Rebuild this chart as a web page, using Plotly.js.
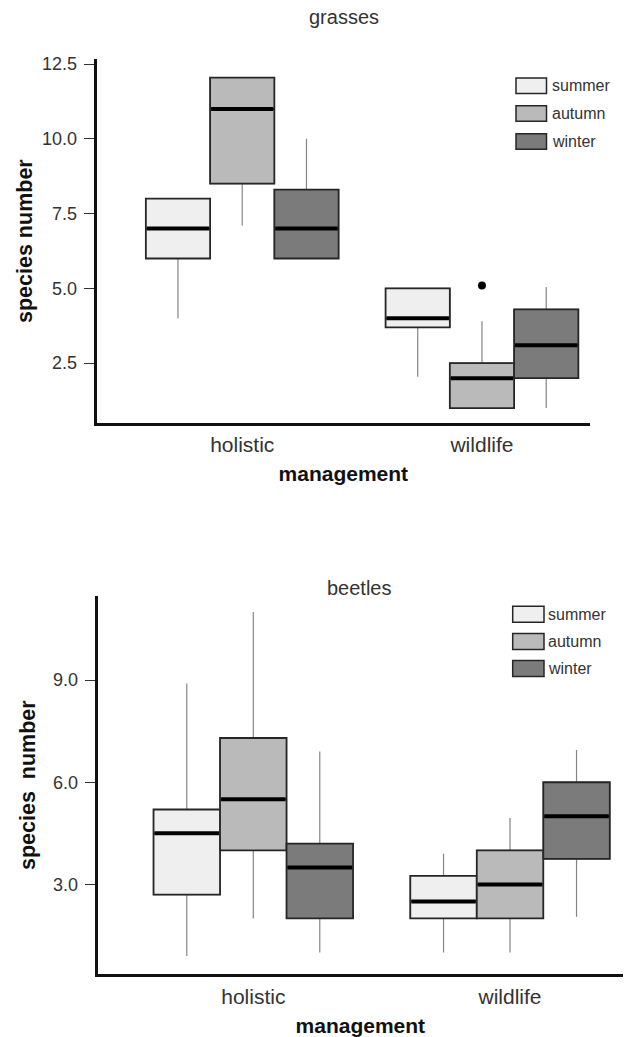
<!DOCTYPE html>
<html>
<head>
<meta charset="utf-8">
<script src="https://cdn.plot.ly/plotly-3.0.1.min.js"></script>
<style>html,body{margin:0;padding:0;background:#fff;}#chart{width:628px;height:1037px;}</style>
</head>
<body>
<div id="chart"></div>
<script>
// ---------- data ----------
var groups = ['holistic', 'wildlife'];
var seasons = ['summer', 'autumn', 'winter'];

// grasses: per season, values for [holistic, wildlife]
var grassQ1      = {summer: [6.0, 3.7],  autumn: [8.5, 1.0],  winter: [6.0, 2.0]};
var grassMedian  = {summer: [7.0, 4.0],  autumn: [11.0, 2.0], winter: [7.0, 3.1]};
var grassQ3      = {summer: [8.0, 5.0],  autumn: [12.05, 2.5], winter: [8.3, 4.3]};
var grassLower   = {summer: [4.0, 2.05], autumn: [7.1, 1.0],  winter: [6.0, 1.0]};
var grassUpper   = {summer: [8.0, 5.0],  autumn: [12.05, 3.9], winter: [10.0, 5.05]};
var grassOutGroup  = ['wildlife'];
var grassOutSeason = ['autumn'];
var grassOutValue  = [5.1];

// beetles
var beetQ1      = {summer: [2.7, 2.0],  autumn: [4.0, 2.0],  winter: [2.0, 3.75]};
var beetMedian  = {summer: [4.5, 2.5],  autumn: [5.5, 3.0],  winter: [3.5, 5.0]};
var beetQ3      = {summer: [5.2, 3.25], autumn: [7.3, 4.0],  winter: [4.2, 6.0]};
var beetLower   = {summer: [0.9, 1.0],  autumn: [2.0, 1.0],  winter: [1.0, 2.05]};
var beetUpper   = {summer: [8.9, 3.9],  autumn: [11.0, 4.95], winter: [6.9, 6.95]};

var grassTickVals = [2.5, 5.0, 7.5, 10.0, 12.5];
var grassTickText = ['2.5', '5.0', '7.5', '10.0', '12.5'];
var beetTickVals  = [3.0, 6.0, 9.0];
var beetTickText  = ['3.0', '6.0', '9.0'];

// ---------- styles ----------
var W = 628, H = 1037;
var fills = {summer: '#efefef', autumn: '#bababa', winter: '#7b7b7b'};
var FONT = 'Liberation Sans, Arial, sans-serif';
function px(x) { return x / W; }
function py(y) { return 1 - y / H; }

var panels = [
  {xa: 'x', ya: 'y', q1: grassQ1, med: grassMedian, q3: grassQ3, lo: grassLower, hi: grassUpper, bw: 0.268},
  {xa: 'x2', ya: 'y2', q1: beetQ1, med: beetMedian, q3: beetQ3, lo: beetLower, hi: beetUpper, bw: 0.259}
];

var traces = [];
panels.forEach(function (p) {
  seasons.forEach(function (s, si) {
    var xs = groups.map(function (g, gi) { return gi + (si - 1) * p.bw; });
    // whiskers (thin grey)
    traces.push({
      type: 'box', xaxis: p.xa, yaxis: p.ya, x: xs,
      q1: p.q1[s], median: p.med[s], q3: p.q3[s],
      lowerfence: p.lo[s], upperfence: p.hi[s],
      width: p.bw, whiskerwidth: 0,
      line: {color: '#858585', width: 1.2},
      fillcolor: 'rgba(0,0,0,0)', boxpoints: false,
      showlegend: false, hoverinfo: 'skip'
    });
    // box body
    traces.push({
      type: 'box', xaxis: p.xa, yaxis: p.ya, x: xs,
      q1: p.q1[s], median: p.med[s], q3: p.q3[s],
      lowerfence: p.q1[s], upperfence: p.q3[s],
      width: p.bw, whiskerwidth: 0,
      line: {color: '#262626', width: 1.8},
      fillcolor: fills[s], boxpoints: false,
      name: s, showlegend: false, hoverinfo: 'skip'
    });
    // thick median
    var mx = [], my = [];
    xs.forEach(function (x, i) {
      mx.push(x - p.bw / 2 + 0.004, x + p.bw / 2 - 0.004, null);
      my.push(p.med[s][i], p.med[s][i], null);
    });
    traces.push({
      type: 'scatter', mode: 'lines', xaxis: p.xa, yaxis: p.ya,
      x: mx, y: my, line: {color: '#000', width: 4},
      showlegend: false, hoverinfo: 'skip'
    });
  });
});
// outlier
traces.push({
  type: 'scatter', mode: 'markers', xaxis: 'x', yaxis: 'y',
  x: grassOutGroup.map(function (g, i) {
    return groups.indexOf(g) + (seasons.indexOf(grassOutSeason[i]) - 1) * panels[0].bw;
  }),
  y: grassOutValue,
  marker: {color: '#000', size: 8},
  showlegend: false, hoverinfo: 'skip'
});

function xAxis(dom, range) {
  return {
    domain: dom, range: range,
    tickmode: 'array', tickvals: [0, 1], ticktext: groups,
    showline: true, linewidth: 3, linecolor: '#111',
    ticks: '', ticklabelstandoff: 1,
    showgrid: false, zeroline: false,
    tickfont: {family: FONT, size: 21, color: '#333'},
    title: {text: 'management', standoff: 12, font: {family: FONT, size: 21, color: '#111', weight: 'bold'}}
  };
}
function yAxis(dom, range, tv, tt, title, standoff) {
  return {
    domain: dom, range: range,
    tickmode: 'array', tickvals: tv, ticktext: tt,
    showline: true, linewidth: 3, linecolor: '#111',
    ticks: 'outside', ticklen: 10, tickwidth: 1, tickcolor: '#333',
    ticklabelstandoff: 3,
    showgrid: false, zeroline: false,
    tickfont: {family: FONT, size: 18, color: '#333'},
    title: {text: title, standoff: standoff, font: {family: FONT, size: 21.5, color: '#111', weight: 'bold'}}
  };
}

var shapes = [], annotations = [];
function legend(x0, x1, yc0, dy, tx, h) {
  seasons.forEach(function (s, i) {
    var yc = yc0 + i * dy;
    shapes.push({type: 'rect', xref: 'paper', yref: 'paper',
      x0: px(x0), x1: px(x1), y0: py(yc - h / 2), y1: py(yc + h / 2),
      fillcolor: fills[s], line: {color: '#262626', width: 1.5}});
    annotations.push({xref: 'paper', yref: 'paper', x: px(tx), y: py(yc),
      xanchor: 'left', yanchor: 'middle', showarrow: false, text: s,
      font: {family: FONT, size: 16, color: '#333'}});
  });
}
legend(516, 546.5, 85.8, 27.8, 550, 15.5);
legend(512.7, 544, 614.2, 27.2, 546, 16);

annotations.push({xref: 'paper', yref: 'paper', x: px(344), y: py(17), xanchor: 'center', yanchor: 'middle',
  showarrow: false, text: 'grasses', font: {family: FONT, size: 20, color: '#333'}});
annotations.push({xref: 'paper', yref: 'paper', x: px(359), y: py(588), xanchor: 'center', yanchor: 'middle',
  showarrow: false, text: 'beetles', font: {family: FONT, size: 20, color: '#333'}});

var layout = {
  width: W, height: H,
  margin: {l: 0, r: 0, t: 0, b: 0, pad: 0},
  paper_bgcolor: '#fff', plot_bgcolor: '#fff',
  showlegend: false, boxmode: 'overlay',
  xaxis: Object.assign(xAxis([px(96.7), px(590)], [-0.607, 1.4506]), {anchor: 'y'}),
  yaxis: Object.assign(yAxis([py(423), py(59.3)], [0.5, 12.66], grassTickVals, grassTickText, 'species number', 4), {anchor: 'x'}),
  xaxis2: Object.assign(xAxis([px(97.7), px(623)], [-0.606, 1.440]), {anchor: 'y2'}),
  yaxis2: Object.assign(yAxis([py(974.3), py(596)], [0.36, 11.47], beetTickVals, beetTickText, 'species\u00a0 number', 12), {anchor: 'x2'}),
  shapes: shapes, annotations: annotations
};

Plotly.newPlot('chart', traces, layout, {staticPlot: true, displayModeBar: false});
</script>
</body>
</html>
